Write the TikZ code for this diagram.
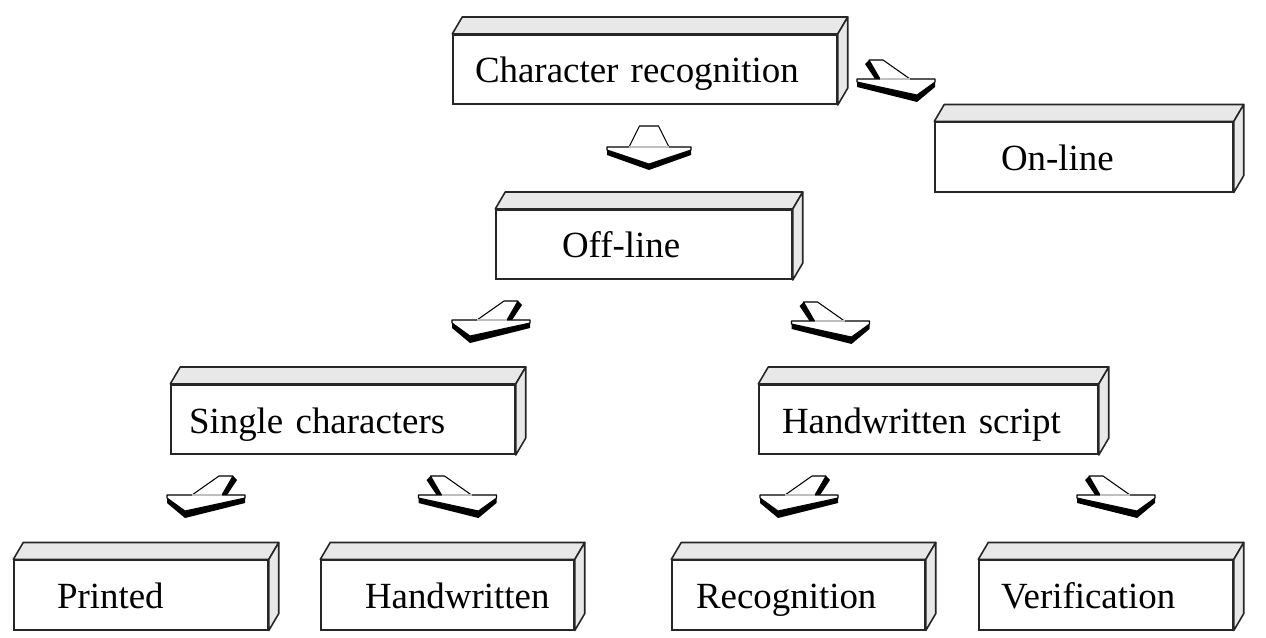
\documentclass[tikz,border=0pt]{standalone}
\usepackage{fontspec}
\setmainfont{Liberation Serif}
\usetikzlibrary{calc}
\tikzstyle{slab} = [rectangle, draw=black!85, line width=0.9pt, fill=white, minimum height=1.39cm, inner xsep=0pt, inner ysep=0pt, align=left, text height=0.6cm, text depth=0.06cm, font=\fontsize{21pt}{25pt}\selectfont]
\tikzstyle{face} = [draw=black!85, line width=0.9pt, fill=black!9, line join=round]
\tikzstyle{outline} = [draw=black, fill=white, line width=0.6pt, line join=round]
\tikzset{
  downarrow/.pic={
    \fill (-42,3) -- (0,17) -- (42,3) -- (42,8) -- (0,23) -- (-42,8) -- cycle;
    \path[outline] (-42,0) -- (42,0) -- (42,3) -- (0,17) -- (-42,3) -- cycle;
    \path[outline] (-20,0) -- (-9.5,-21) -- (9.5,-21) -- (20,0);
    \draw[black!25, line width=0.6pt] (-20,0) -- (20,0);
  },
  sidearrow/.pic={
    \fill (-39,3) -- (-21,16) -- (39,3) -- (39,8) -- (-21,23) -- (-39,8) -- cycle;
    \fill (27,-19) -- (31,-15) -- (21,0) -- (16,0) -- cycle;
    \path[outline] (-39,0) -- (39,0) -- (39,3) -- (-21,16) -- (-39,3) -- cycle;
    \path[outline] (-14,0) -- (13,-19) -- (27,-19) -- (16,0);
    \draw[black!25, line width=0.6pt] (-14,0) -- (16,0);
  }
}

\begin{document}
\begin{tikzpicture}[x=0.02cm, y=-0.02cm]
	\useasboundingbox (0,0) rectangle (1266,638);

	\node[slab, text width=7.68cm] (crec) at (645,69.5) {\hspace*{0.44cm}Character recognition};
	\node[slab, text width=5.96cm] (online) at ($(crec) + (439,87.5)$) {\hspace*{1.32cm}On-line};
	\node[slab, text width=5.92cm] (offline) at ($(crec) + (-1,175)$) {\hspace*{1.32cm}Off-line};
	\node[slab, text width=6.88cm] (single) at ($(offline) + (-301,175)$) {\hspace*{0.36cm}Single characters};
	\node[slab, text width=6.78cm] (hscript) at ($(offline) + (284.5,175)$) {\hspace*{0.46cm}Handwritten script};
	\node[slab, text width=5.08cm] (printed) at (141,595) {\hspace*{0.86cm}Printed};
	\node[slab, text width=5.06cm] (handw) at ($(printed) + (306.5,0)$) {\hspace*{0.88cm}Handwritten};
	\node[slab, text width=5.06cm] (recog) at ($(handw) + (351,0)$) {\hspace*{0.48cm}Recognition};
	\node[slab, text width=5.08cm] (verif) at ($(recog) + (307.5,0)$) {\hspace*{0.44cm}Verification};

	\foreach \n in {crec, online, offline, single, hscript, printed, handw, recog, verif} {
		\path[face] (\n.north west) -- ++(10,-17) -- ([shift={(10,-17)}]\n.north east) -- (\n.north east) -- cycle;
		\path[face] (\n.north east) -- ++(10,-17) -- ([shift={(10,-17)}]\n.south east) -- (\n.south east) -- cycle;
	}

	\pic at (649,147) {downarrow};
	\pic[xscale=-1] at (896,79) {sidearrow};
	\pic at (491,320) {sidearrow};
	\pic[xscale=-1] at (830.5,321) {sidearrow};
	\pic at (206,495) {sidearrow};
	\pic[xscale=-1] at (457.5,495) {sidearrow};
	\pic at (799,495) {sidearrow};
	\pic[xscale=-1] at (1116,495) {sidearrow};
\end{tikzpicture}
\end{document}
